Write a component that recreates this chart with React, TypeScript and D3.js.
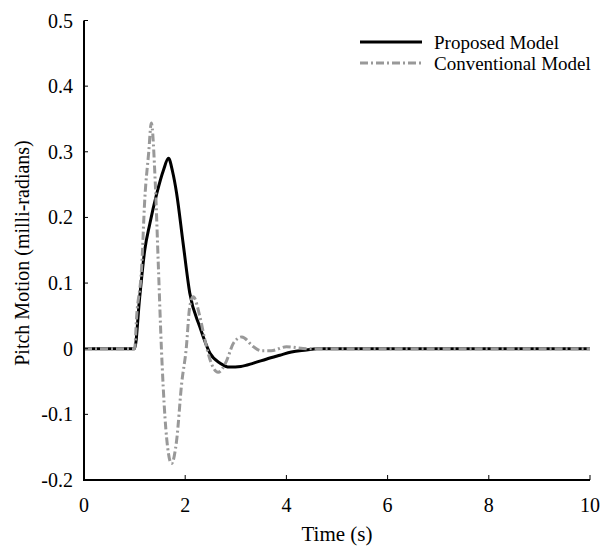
import React, { useRef, useEffect } from "react";
import * as d3 from "d3";

// time (s) and pitch values
const proposedTime = [0, 1.0, 1.1, 1.2, 1.3, 1.44, 1.57, 1.67, 1.75, 1.83, 1.96, 2.09, 2.29, 2.49, 2.69, 2.88, 3.1, 3.35, 3.6, 3.87, 4.1, 4.4, 4.6, 10];
const proposedValue = [0, 0, 0.078, 0.15, 0.19, 0.237, 0.272, 0.29, 0.27, 0.237, 0.16, 0.085, 0.033, -0.007, -0.022, -0.028, -0.027, -0.022, -0.016, -0.01, -0.005, -0.002, 0, 0];

const conventionalTime = [0, 1.0, 1.04, 1.14, 1.2, 1.28, 1.33, 1.41, 1.47, 1.53, 1.6, 1.67, 1.73, 1.83, 1.93, 2.02, 2.09, 2.16, 2.29, 2.39, 2.52, 2.65, 2.82, 2.95, 3.12, 3.35, 3.5, 3.7, 4.0, 4.4, 10];
const conventionalValue = [0, 0, 0.049, 0.125, 0.226, 0.3, 0.344, 0.25, 0.125, 0, -0.104, -0.16, -0.175, -0.14, -0.053, 0, 0.064, 0.079, 0.049, 0.013, -0.023, -0.036, -0.018, 0.008, 0.018, 0.003, -0.003, -0.003, 0.003, 0, 0];

const xTicks = [0, 2, 4, 6, 8, 10];
const yTicks = [-0.2, -0.1, 0, 0.1, 0.2, 0.3, 0.4, 0.5];
const yTickLabels = ["-0.2", "-0.1", "0", "0.1", "0.2", "0.3", "0.4", "0.5"];
const seriesNames = ["Proposed Model", "Conventional Model"];

const W = 610;
const H = 549;
const FONT = "Liberation Serif";

const App = () => {
    const svgRef = useRef<SVGSVGElement>(null);

    useEffect(() => {
        const svg = d3.select(svgRef.current);
        svg.selectAll("*").remove();

        const x = d3.scaleLinear().domain([0, 10]).range([84, 590]);
        const y = d3.scaleLinear().domain([-0.2, 0.5]).range([480, 20.5]);

        const line = d3
            .line<[number, number]>()
            .x((d) => x(d[0]))
            .y((d) => y(d[1]))
            .curve(d3.curveMonotoneX);

        const series = [
            {
                name: seriesNames[0],
                pts: proposedTime.map((t, i) => [t, proposedValue[i]] as [number, number]),
                color: "#000",
                dash: null,
            },
            {
                name: seriesNames[1],
                pts: conventionalTime.map((t, i) => [t, conventionalValue[i]] as [number, number]),
                color: "#999",
                dash: "8,3,2,3",
            },
        ];

        const plot = svg.append("g");
        series.forEach((s) => {
            plot.append("path")
                .attr("d", line(s.pts))
                .attr("fill", "none")
                .attr("stroke", s.color)
                .attr("stroke-width", 3)
                .attr("stroke-dasharray", s.dash);
        });

        // axes
        const axes = svg.append("g").attr("stroke", "#000");
        axes.append("line")
            .attr("x1", x(0)).attr("x2", x(0))
            .attr("y1", y(0.5)).attr("y2", y(-0.2) + 1)
            .attr("stroke-width", 2);
        axes.append("line")
            .attr("x1", x(0) - 1).attr("x2", x(10))
            .attr("y1", y(-0.2)).attr("y2", y(-0.2))
            .attr("stroke-width", 2);

        axes.selectAll(".yt")
            .data(yTicks)
            .enter()
            .append("line")
            .attr("x1", x(0)).attr("x2", x(0) + 4)
            .attr("y1", (d) => y(d)).attr("y2", (d) => y(d))
            .attr("stroke-width", 1);
        axes.selectAll(".xt")
            .data(xTicks)
            .enter()
            .append("line")
            .attr("x1", (d) => x(d)).attr("x2", (d) => x(d))
            .attr("y1", y(-0.2)).attr("y2", y(-0.2) - 5)
            .attr("stroke-width", 1);

        svg.selectAll(".ylab")
            .data(yTicks)
            .enter()
            .append("text")
            .attr("x", 73)
            .attr("y", (d) => y(d))
            .attr("dy", "0.35em")
            .attr("text-anchor", "end")
            .attr("font-family", FONT)
            .attr("font-size", 20)
            .text((d, i) => yTickLabels[i]);

        svg.selectAll(".xlab")
            .data(xTicks)
            .enter()
            .append("text")
            .attr("x", (d) => x(d))
            .attr("y", 512)
            .attr("text-anchor", "middle")
            .attr("font-family", FONT)
            .attr("font-size", 20)
            .text((d) => d);

        svg.append("text")
            .attr("x", 337)
            .attr("y", 541)
            .attr("text-anchor", "middle")
            .attr("font-family", FONT)
            .attr("font-size", 21)
            .text("Time (s)");

        svg.append("text")
            .attr("transform", "translate(29,253) rotate(-90)")
            .attr("text-anchor", "middle")
            .attr("font-family", FONT)
            .attr("font-size", 20)
            .text("Pitch Motion (milli-radians)");

        // legend
        const legend = svg.append("g");
        series.forEach((s, i) => {
            const ly = 42 + i * 21;
            legend.append("line")
                .attr("x1", 360).attr("x2", 422)
                .attr("y1", ly).attr("y2", ly)
                .attr("stroke", s.color)
                .attr("stroke-width", 3)
                .attr("stroke-dasharray", s.dash);
            legend.append("text")
                .attr("x", 434)
                .attr("y", ly)
                .attr("dy", "0.35em")
                .attr("font-family", FONT)
                .attr("font-size", 19)
                .text(s.name);
        });
    }, []);

    return (
        <svg
            ref={svgRef}
            width={W}
            height={H}
            style={{ position: "absolute", left: 0, top: 0, background: "#fff" }}
        />
    );
};

export default App;
